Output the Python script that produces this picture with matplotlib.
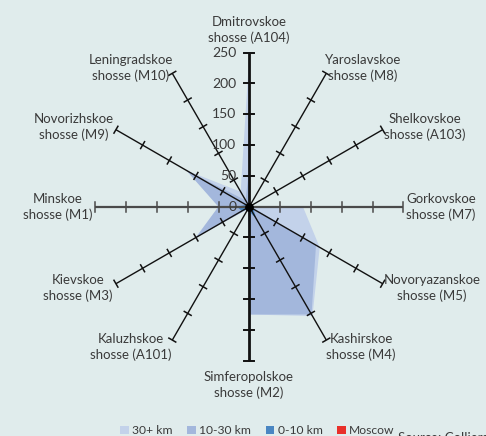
import numpy as np
import matplotlib
matplotlib.use("Agg")
import matplotlib.pyplot as plt
from matplotlib.patches import Patch

plt.rcParams['font.family'] = ['Lato', 'DejaVu Sans']

# ---- data (clockwise from top) ----
roads = ["Dmitrovskoe\nshosse (A104)", "Yaroslavskoe\nshosse (M8)", "Shelkovskoe\nshosse (A103)",
         "Gorkovskoe\nshosse (M7)", "Novoryazanskoe\nshosse (M5)", "Kashirskoe\nshosse (M4)",
         "Simferopolskoe\nshosse (M2)", "Kaluzhskoe\nshosse (A101)", "Kievskoe\nshosse (M3)",
         "Minskoe\nshosse (M1)", "Novorizhskoe\nshosse (M9)", "Leningradskoe\nshosse (M10)"]
km30plus = [248, 2, 2, 87, 132, 205, 175, 4, 101, 50, 118, 28]
km10_30 = [66, 2, 2, 3, 125, 202, 175, 4, 100, 50, 118, 12]
km0_10 = [3, 2, 2, 4, 8, 22, 8, 5, 14, 20, 6, 3]
moscow = [1, 1, 1, 1, 1, 1, 1, 1, 1, 1, 1, 1]
series_names = ["30+ km", "10-30 km", "0-10 km", "Moscow"]
tick_values = [0, 50, 100, 150, 200, 250]

# ---- styling ----
W, H = 486, 436
BG = "#e0ecec"
colors = ["#c3d2ea", "#a3b7dc", "#4a86c2", "#e8302a"]
CX, CY, S = 249.3, 206.7, 0.616  # centre (px from top-left) and px per unit

fig = plt.figure(figsize=(W / 100, H / 100), dpi=100, facecolor=BG)
ax = fig.add_axes([0, 0, 1, 1])
ax.set_facecolor(BG)
ax.set_xlim(-CX / S, (W - CX) / S)
ax.set_ylim(-(H - CY) / S, CY / S)
ax.axis("off")

n = len(roads)
ang = np.arange(n) * 2 * np.pi / n  # clockwise from north
sx, sy = np.sin(ang), np.cos(ang)


def px(x, y):
    return (x - CX) / S, (CY - y) / S


for vals, c in zip([km30plus, km10_30, km0_10, moscow], colors):
    v = np.array(vals, float)
    ax.fill(v * sx, v * sy, color=c, lw=0, zorder=1)

rmax = tick_values[-1]
for i in range(n):
    if i in (0, 6):
        lw, col, tl = 2.0, "#111111", 5
    elif i in (3, 9):
        lw, col, tl = 1.6, "#4a4a4a", 5
    else:
        lw, col, tl = 1.0, "#111111", 4
    ax.plot([0, rmax * sx[i]], [0, rmax * sy[i]], color=col, lw=lw, zorder=3,
            solid_capstyle="butt")
    # perpendicular tick marks
    px_, py_ = -sy[i], sx[i]
    for t in tick_values[1:]:
        x0, y0 = t * sx[i], t * sy[i]
        ax.plot([x0 - tl * px_ * 1.6, x0 + tl * px_ * 1.6],
                [y0 - tl * py_ * 1.6, y0 + tl * py_ * 1.6],
                color=col, lw=1.1 if i not in (0, 6) else 1.4, zorder=3)

ax.scatter([0], [0], s=28, color="black", zorder=5)

for t in tick_values:
    ax.text(-13 / S, t, str(t), ha="right", va="center", fontsize=10,
            color="#3a3a3a", zorder=4)

label_pos = [(249, 30), (363, 68), (425, 127), (441, 207), (432, 288), (361, 347),
             (249, 385), (131, 347), (78, 288), (58, 207), (74, 127), (131, 68)]
for lab, (lx, ly) in zip(roads, label_pos):
    x, y = px(lx, ly)
    ax.text(x, y, lab, ha="center", va="center", fontsize=9.5, color="#3a3a3a",
            linespacing=1.25, zorder=4)

handles = [Patch(facecolor=c, edgecolor="none") for c in colors]
fig.legend(handles, series_names, loc="center", bbox_to_anchor=(0.53, 0.012),
           ncol=4, frameon=False, fontsize=8.7, handlelength=0.7, handleheight=0.7,
           handletextpad=0.3, columnspacing=1.2, labelcolor="#3a3a3a",
           borderpad=0.0)

fig.text(398 / W, 1 - 432 / H, "Source: Colliers International", ha="left", va="top",
         fontsize=9.5, color="#3a3a3a")

fig.savefig("out.png", dpi=100, facecolor=BG)
